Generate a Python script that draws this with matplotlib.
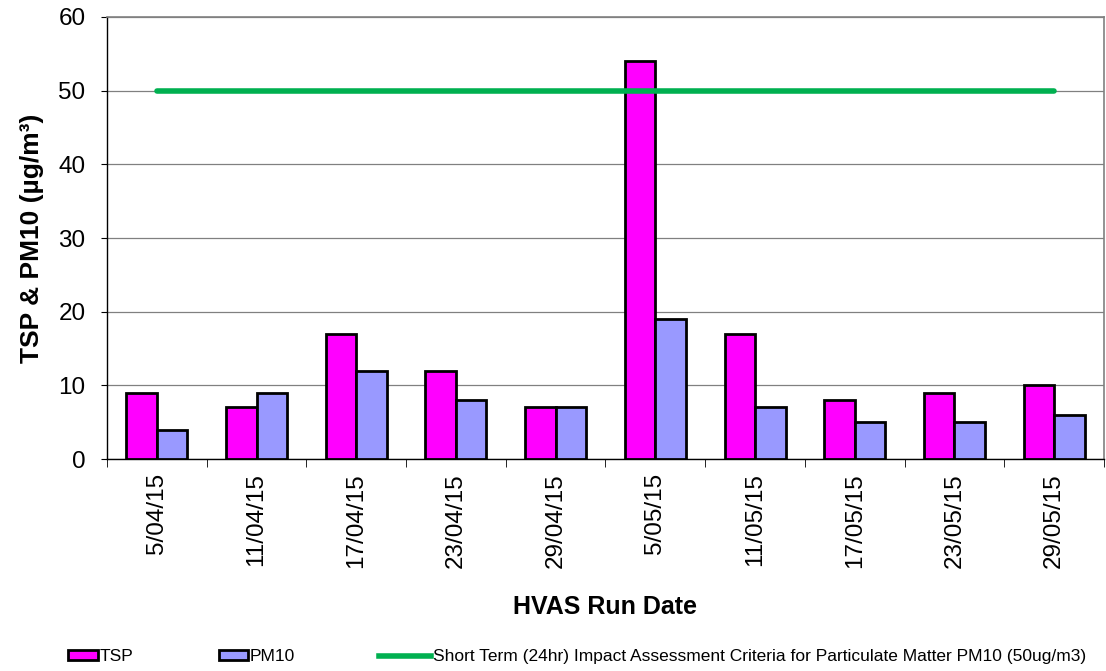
import numpy as np
import matplotlib.pyplot as plt
from matplotlib.patches import Patch
from matplotlib.lines import Line2D

plt.rcParams['font.family'] = ['Liberation Sans', 'DejaVu Sans']

dates = ['5/04/15', '11/04/15', '17/04/15', '23/04/15', '29/04/15',
         '5/05/15', '11/05/15', '17/05/15', '23/05/15', '29/05/15']
tsp = [9, 7, 17, 12, 7, 54, 17, 8, 9, 10]
pm10 = [4, 9, 12, 8, 7, 19, 7, 5, 5, 6]
criteria = [50] * len(dates)

tsp_col = '#FF00FF'
pm_col = '#9999FF'
green = '#00B050'

fig = plt.figure(figsize=(11.06, 6.71), dpi=100)
ax = fig.add_axes([0.0967, 0.3159, 0.9015, 0.6588])

x = np.arange(len(dates))
w = 0.306
ax.bar(x - w / 2, tsp, w, color=tsp_col, edgecolor='black', linewidth=2, zorder=3)
ax.bar(x + w / 2, pm10, w, color=pm_col, edgecolor='black', linewidth=2, zorder=3)
ax.plot(x, criteria, color=green, lw=4, solid_capstyle='round', zorder=4)

ax.set_xlim(-0.5, len(dates) - 0.5)
ax.set_ylim(0, 60)
ax.set_yticks(range(0, 61, 10))
ax.yaxis.grid(True, color='#808080', lw=0.9, zorder=0)
ax.set_axisbelow(True)

ax.set_xticks(x)
ax.set_xticklabels(dates, rotation=90, fontsize=17.5)
ax.tick_params(axis='x', length=0, pad=10)
ax.set_xticks(np.arange(-0.5, len(dates)), minor=True)
ax.tick_params(axis='x', which='minor', length=6, direction='out', color='black')
ax.tick_params(axis='y', labelsize=17.5, length=4.5, direction='out', pad=11)

for s in ['top', 'right']:
    ax.spines[s].set_color('#808080')
    ax.spines[s].set_linewidth(1.2)
for s in ['left', 'bottom']:
    ax.spines[s].set_color('black')
    ax.spines[s].set_linewidth(1.0)

ax.set_ylabel('TSP & PM10 (µg/m³)', fontsize=19, fontweight='bold', labelpad=10)
ax.set_xlabel('HVAS Run Date', fontsize=18, fontweight='bold', labelpad=20)

entries = [
    (Patch(facecolor=tsp_col, edgecolor='black', linewidth=2), 'TSP', 0.054, 1.7),
    (Patch(facecolor=pm_col, edgecolor='black', linewidth=2), 'PM10', 0.190, 1.7),
    (Line2D([], [], color=green, lw=4), 'Short Term (24hr) Impact Assessment Criteria for Particulate Matter PM10 (50ug/m3)', 0.335, 3.0),
]
for h, lab, xpos, hl in entries:
    fig.legend([h], [lab], loc='center left', bbox_to_anchor=(xpos, 0.021),
               frameon=False, handlelength=hl, handleheight=0.55, handletextpad=0.1,
               borderpad=0, prop={'size': 12.5})

fig.savefig('out.png', dpi=100)
